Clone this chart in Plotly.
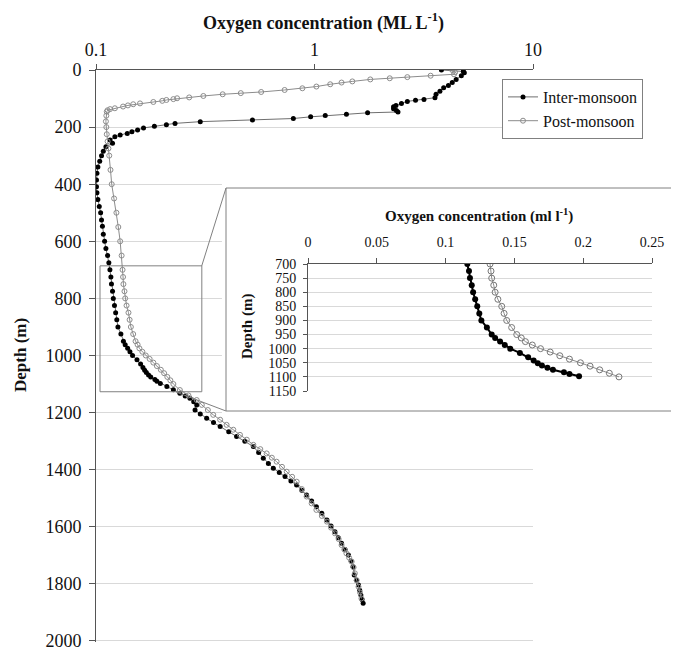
import plotly.graph_objects as go

# ---------------- data ----------------
depth_inter = [0, 5, 10, 20, 33, 44, 54, 62, 74, 85, 97, 103, 106, 110, 117, 124, 129, 136, 142, 147,
               150, 155, 159, 164, 170, 175, 181, 187, 192, 197, 203, 210, 216, 222, 228, 234, 245, 257,
               269, 285, 300, 320, 340, 362, 385, 409, 430, 454, 478, 500, 525, 547, 575, 600, 625, 650,
               675, 700, 725, 750, 775, 800, 825, 850, 875, 900, 925, 950, 962, 975, 987, 1000, 1015,
               1030, 1042, 1052, 1060, 1068, 1075, 1084, 1090, 1098, 1109, 1120, 1132, 1142, 1150, 1162,
               1173, 1191, 1205, 1220, 1235, 1249, 1267, 1284, 1300, 1319, 1340, 1360, 1378, 1395, 1410,
               1424, 1440, 1454, 1472, 1489, 1510, 1530, 1553, 1576, 1597, 1617, 1638, 1658, 1680, 1699,
               1720, 1740, 1769, 1787, 1804, 1822, 1839, 1855, 1868]
o2_inter = [3.81, 4.8, 4.85, 4.7, 4.45, 4.27, 4.1, 3.9, 3.75, 3.6, 3.56, 3.17, 2.9, 2.66, 2.5, 2.36, 2.3,
            2.3, 2.37, 2.41,
            1.75, 1.4, 1.12, 0.96, 0.8, 0.52, 0.30, 0.23, 0.21, 0.185, 0.165, 0.155, 0.146, 0.139, 0.129,
            0.122, 0.116, 0.119, 0.111, 0.108, 0.106, 0.104, 0.102, 0.101, 0.1005, 0.1005, 0.101, 0.102,
            0.1035, 0.105, 0.106, 0.107, 0.108, 0.1095, 0.111, 0.113, 0.1145, 0.1158, 0.117, 0.1177,
            0.119, 0.120, 0.1215, 0.123, 0.1245, 0.126, 0.130, 0.1335, 0.136, 0.1396, 0.143, 0.147,
            0.154, 0.160, 0.164, 0.167, 0.170, 0.174, 0.178, 0.186, 0.190, 0.197, 0.211, 0.226, 0.242,
            0.256, 0.269, 0.280, 0.289, 0.284, 0.300, 0.321, 0.345, 0.370, 0.405, 0.440, 0.480, 0.525,
            0.555, 0.583, 0.615, 0.648, 0.690, 0.733, 0.780, 0.828, 0.875, 0.920, 0.970, 1.02, 1.08,
            1.14, 1.19, 1.24, 1.285, 1.33, 1.38, 1.43, 1.47, 1.50, 1.52, 1.555, 1.59, 1.61, 1.63, 1.65,
            1.67]

depth_post = [0, 8, 15, 20, 25, 29, 33, 40, 44, 50, 58, 64, 70, 77, 81, 85, 91, 96, 99, 102, 105, 108,
              112, 117, 120, 124, 128, 134, 137, 141, 146, 160, 180, 200, 225, 250, 275, 300, 350, 400,
              450, 500, 550, 600, 650, 700, 725, 750, 775, 800, 825, 850, 875, 900, 925, 950, 962, 975,
              987, 1000, 1012, 1025, 1037, 1050, 1062, 1075, 1087, 1100, 1121, 1140, 1156, 1173, 1191,
              1208, 1225, 1243, 1260, 1278, 1295, 1313, 1328, 1343, 1358, 1372, 1390, 1407, 1425, 1442,
              1468, 1494, 1518, 1541, 1562, 1582, 1603, 1623, 1643, 1664, 1680, 1693, 1708, 1722, 1742,
              1763, 1787, 1810, 1830, 1851]
o2_post = [4.27, 4.4, 4.35, 3.4, 2.66, 2.21, 1.80, 1.49, 1.33, 1.18, 1.02, 0.88, 0.73, 0.57, 0.46, 0.38,
           0.31, 0.267, 0.235, 0.226, 0.21, 0.201, 0.183, 0.159, 0.148, 0.140, 0.133, 0.122, 0.116, 0.113,
           0.112, 0.1115, 0.111, 0.1115, 0.112, 0.113, 0.114, 0.115, 0.1165, 0.118, 0.121, 0.124, 0.1265,
           0.129, 0.131, 0.1323, 0.133, 0.1335, 0.135, 0.136, 0.138, 0.1408, 0.1425, 0.1444, 0.148,
           0.1517, 0.155, 0.158, 0.163, 0.169, 0.176, 0.183, 0.190, 0.198, 0.205, 0.212, 0.219, 0.226,
           0.242, 0.265, 0.289, 0.305, 0.325, 0.344, 0.370, 0.396, 0.425, 0.456, 0.490, 0.525, 0.565,
           0.604, 0.638, 0.671, 0.710, 0.746, 0.790, 0.829, 0.875, 0.920, 0.970, 1.02, 1.08, 1.14, 1.19,
           1.24, 1.29, 1.33, 1.37, 1.40, 1.44, 1.48, 1.51, 1.53, 1.56, 1.59, 1.615, 1.64]

main_xticks = [0.1, 1, 10]
main_xticktext = ["0.1", "1", "10"]
main_yticks = list(range(0, 2001, 200))
inset_xticks = [0, 0.05, 0.1, 0.15, 0.2, 0.25]
inset_yticks = list(range(700, 1151, 50))
inset_depth_min, inset_depth_max = 700, 1100

# ---------------- figure ----------------
# the page body adds an 8px margin, so the figure is placed at (8, 8) in the window
OFF = 8
W, H = 671, 643
SERIF = "Liberation Serif, Times New Roman, serif"
AX = "#555555"
GRID = "#d9d9d9"

def px(x):
    return (x - OFF) / W

def py(y):
    return 1 - (y - OFF) / H

fig = go.Figure()

# main traces
fig.add_trace(go.Scatter(
    x=o2_inter, y=depth_inter, name="Inter-monsoon", mode="lines+markers",
    line=dict(color="#6f6f6f", width=1),
    marker=dict(symbol="circle", size=5, color="black"),
    xaxis="x", yaxis="y"))
fig.add_trace(go.Scatter(
    x=o2_post, y=depth_post, name="Post-monsoon", mode="lines+markers",
    line=dict(color="#8c8c8c", width=1),
    marker=dict(symbol="circle-open", size=5, color="#8c8c8c", line=dict(width=1)),
    xaxis="x", yaxis="y"))

# inset traces (subset of the same profiles)
ii = [(d, v) for d, v in zip(depth_inter, o2_inter) if inset_depth_min <= d <= inset_depth_max]
pp = [(d, v) for d, v in zip(depth_post, o2_post) if inset_depth_min <= d <= inset_depth_max]
fig.add_trace(go.Scatter(
    x=[v for d, v in ii], y=[d for d, v in ii], mode="lines+markers", showlegend=False,
    line=dict(color="black", width=2),
    marker=dict(symbol="circle", size=6, color="black"),
    xaxis="x2", yaxis="y2"))
fig.add_trace(go.Scatter(
    x=[v for d, v in pp], y=[d for d, v in pp], mode="lines+markers", showlegend=False,
    line=dict(color="#8c8c8c", width=1),
    marker=dict(symbol="circle-open", size=6, color="#777777", line=dict(width=1)),
    xaxis="x2", yaxis="y2"))

tickfont_main = dict(family=SERIF, size=18, color="#111111")
tickfont_inset = dict(family=SERIF, size=14, color="#111111")

fig.update_layout(
    width=W, height=H,
    margin=dict(l=0, r=0, t=0, b=0, autoexpand=False),
    paper_bgcolor="white", plot_bgcolor="white",
    showlegend=True,
    legend=dict(x=px(502), y=py(79), xanchor="left", yanchor="top",
                bordercolor="#808080", borderwidth=1, bgcolor="white",
                font=dict(family=SERIF, size=16, color="#111111"),
                itemwidth=30, tracegroupgap=0),
    xaxis=dict(type="log", range=[-1, 1], domain=[px(96), px(533)], side="top",
               anchor="y", showgrid=False, zeroline=False, automargin=False,
               showline=True, linecolor=AX, linewidth=1,
               ticks="outside", ticklen=5, tickcolor=AX,
               tickvals=main_xticks, ticktext=main_xticktext,
               tickfont=tickfont_main, ticklabelstandoff=1),
    yaxis=dict(range=[2005, 0], domain=[py(642.4), py(70)], anchor="x",
               showgrid=True, gridcolor=GRID, gridwidth=1, zeroline=False, automargin=False,
               showline=True, linecolor=AX, linewidth=1,
               ticks="outside", ticklen=6, tickcolor=AX, ticklabeloverflow="allow",
               tickvals=main_yticks, tickfont=tickfont_main, ticklabelstandoff=4),
    xaxis2=dict(range=[0, 0.25], domain=[px(308), px(652)], side="top", anchor="y2",
                showgrid=False, zeroline=False, automargin=False,
                showline=True, linecolor=AX, linewidth=1,
                ticks="outside", ticklen=5, tickcolor=AX,
                tickvals=inset_xticks, tickfont=tickfont_inset, ticklabelstandoff=5),
    yaxis2=dict(range=[1150, 700], domain=[py(391), py(264)], anchor="x2",
                showgrid=True, gridcolor=GRID, gridwidth=1, zeroline=False, automargin=False,
                showline=True, linecolor=AX, linewidth=1,
                ticks="outside", ticklen=4, tickcolor=AX,
                tickvals=inset_yticks, tickfont=tickfont_inset, ticklabelstandoff=4),
)

# white panel hiding main gridlines behind the inset
fig.add_shape(type="rect", xref="x", yref="y", x0=0.377, x1=12, y0=395, y1=1212,
              fillcolor="white", line=dict(width=0), layer="between")
# inset border
fig.add_shape(type="rect", xref="paper", yref="paper", x0=px(226), x1=1.02, y0=py(411), y1=py(188),
              line=dict(color="#808080", width=1), fillcolor="rgba(0,0,0,0)", layer="above")
# zoom window on main plot
fig.add_shape(type="rect", xref="x", yref="y", x0=0.1043, x1=0.305, y0=686, y1=1127,
              line=dict(color="#808080", width=1), fillcolor="rgba(0,0,0,0)", layer="above")
# connector lines
fig.add_shape(type="line", xref="paper", yref="paper", x0=px(201.7), y0=py(266), x1=px(226), y1=py(188),
              line=dict(color="#808080", width=1), layer="above")
fig.add_shape(type="line", xref="paper", yref="paper", x0=px(176), y0=py(392), x1=px(226), y1=py(411),
              line=dict(color="#808080", width=1), layer="above")

# titles
fig.add_annotation(text="<b>Oxygen concentration (ML L<sup>-1</sup>)</b>", xref="paper", yref="paper",
                   x=px(323), y=py(22), showarrow=False, xanchor="center", yanchor="middle",
                   font=dict(family=SERIF, size=18, color="#111111"))
fig.add_annotation(text="<b>Depth (m)</b>", xref="paper", yref="paper", textangle=-90,
                   x=px(20), y=py(355), showarrow=False, xanchor="center", yanchor="middle",
                   font=dict(family=SERIF, size=17, color="#111111"))
fig.add_annotation(text="<b>Oxygen concentration (ml l<sup>-1</sup>)</b>", xref="paper", yref="paper",
                   x=px(479), y=py(215), showarrow=False, xanchor="center", yanchor="middle",
                   font=dict(family=SERIF, size=15, color="#111111"))
fig.add_annotation(text="<b>Depth (m)</b>", xref="paper", yref="paper", textangle=-90,
                   x=px(247), y=py(327), showarrow=False, xanchor="center", yanchor="middle",
                   font=dict(family=SERIF, size=15, color="#111111"))

fig.write_html("out.html")
